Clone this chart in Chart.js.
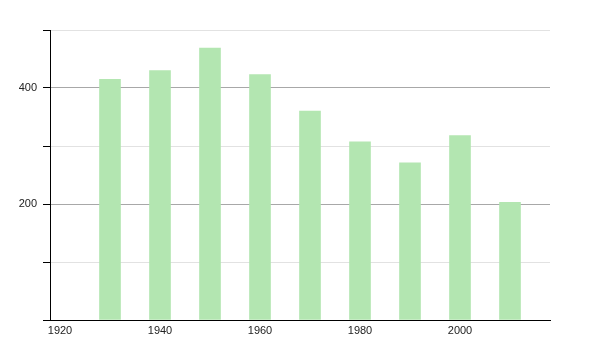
<!DOCTYPE html>
<html>
<head>
<meta charset="utf-8">
<script src="https://cdn.jsdelivr.net/npm/chart.js@4"></script>
<style>
html,body{margin:0;padding:0;background:#fff;}
#wrap{width:600px;height:350px;}
</style>
</head>
<body>
<div id="wrap"><canvas id="c" width="600" height="350"></canvas></div>
<script>
const years = [1930, 1940, 1950, 1960, 1970, 1980, 1990, 2000, 2010];
const population = [415, 430, 469, 423, 360, 307, 271, 318, 203];
const xTicks = [1920, 1940, 1960, 1980, 2000];
const yTicks = [0, 100, 200, 300, 400, 500];
const yLabeled = [200, 400];

const data = years.map((y, i) => ({x: y, y: population[i]}));

new Chart(document.getElementById('c'), {
  type: 'bar',
  data: {
    datasets: [{
      data: data,
      backgroundColor: '#b3e6b1',
      borderWidth: 0,
      barThickness: 21
    }]
  },
  options: {
    responsive: false,
    animation: false,
    layout: {padding: {top: 30, right: 50, left: 0, bottom: 0}},
    plugins: {legend: {display: false}, tooltip: {enabled: false}},
    scales: {
      x: {
        type: 'linear',
        min: 1918,
        max: 2018,
        offset: false,
        afterBuildTicks: s => { s.ticks = xTicks.map(v => ({value: v})); },
        afterFit: s => { s.height = 30; },
        grid: {display: false, drawTicks: false},
        border: {display: true, color: '#000', width: 1},
        ticks: {
          color: '#222',
          font: {family: 'Liberation Sans, Arial, sans-serif', size: 11},
          padding: 4,
          maxRotation: 0,
          autoSkip: false,
          callback: v => String(v)
        }
      },
      y: {
        min: 0,
        max: 500,
        afterBuildTicks: s => { s.ticks = yTicks.map(v => ({value: v})); },
        afterFit: s => { s.width = 50; },
        grid: {
          color: ctx => (yLabeled.includes(ctx.tick && ctx.tick.value) ? '#a8a8a8' : '#e2e2e2'),
          tickColor: '#000',
          tickLength: 7,
          drawTicks: true
        },
        border: {display: true, color: '#000', width: 1},
        ticks: {
          color: '#222',
          font: {family: 'Liberation Sans, Arial, sans-serif', size: 11},
          padding: 6,
          autoSkip: false,
          callback: v => (yLabeled.includes(v) ? String(v) : '')
        }
      }
    }
  }
});
</script>
</body>
</html>
